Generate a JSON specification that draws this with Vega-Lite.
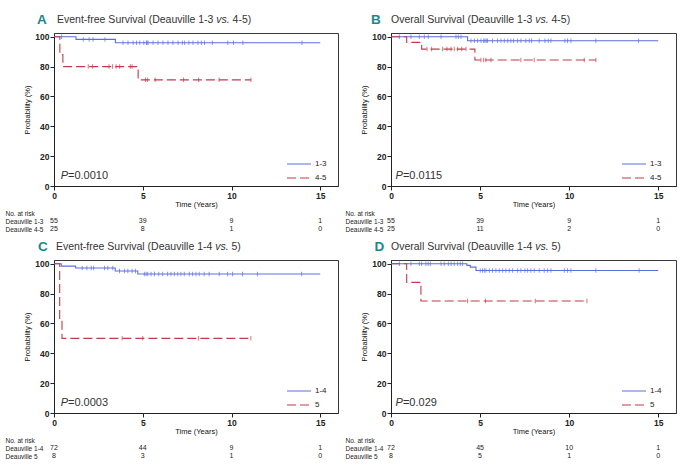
{
  "$schema": "https://vega.github.io/schema/vega-lite/v6.json",
  "padding": {"top": 12, "left": 5, "right": 5, "bottom": 5},
  "background": "white",
  "config": {
    "font": "Liberation Sans",
    "view": {"stroke": null},
    "axis": {"labelFont": "Liberation Sans", "titleFont": "Liberation Sans", "labelFontSize": 8.5, "labelFontWeight": "bold", "titleFontSize": 7.5, "titleFontWeight": "normal", "labelColor": "#222", "titleColor": "#111", "domainColor": "#222", "tickColor": "#222", "tickSize": 4, "grid": false, "labelOverlap": false, "labelFlush": false, "labelSeparation": 0},
    "axisY": {"labelOverlap": false},
    "axisQuantitative": {"labelOverlap": false},
    "legend": {"labelFont": "Liberation Sans"},
    "text": {"font": "Liberation Sans"}
  },
  "datasets": {
    "A_km": [
      {"g": "1-3", "t": 0, "s": 100}, {"g": "1-3", "t": 1.24, "s": 98.2}, {"g": "1-3", "t": 3.46, "s": 96}, {"g": "1-3", "t": 15, "s": 96},
      {"g": "4-5", "t": 0, "s": 100}, {"g": "4-5", "t": 0.33, "s": 88}, {"g": "4-5", "t": 0.5, "s": 80}, {"g": "4-5", "t": 4.74, "s": 71.1}, {"g": "4-5", "t": 11.1, "s": 71.1}
    ],
    "A_cens": [
      {"g": "1-3", "t": 0.43, "s": 100},
      {"g": "1-3", "t": 1.65, "s": 98.2}, {"g": "1-3", "t": 1.98, "s": 98.2}, {"g": "1-3", "t": 2.2, "s": 98.2}, {"g": "1-3", "t": 2.87, "s": 98.2},
      {"g": "1-3", "t": 3.89, "s": 96}, {"g": "1-3", "t": 4.17, "s": 96}, {"g": "1-3", "t": 4.46, "s": 96}, {"g": "1-3", "t": 4.65, "s": 96}, {"g": "1-3", "t": 4.83, "s": 96}, {"g": "1-3", "t": 5.06, "s": 96}, {"g": "1-3", "t": 5.21, "s": 96}, {"g": "1-3", "t": 5.24, "s": 96}, {"g": "1-3", "t": 5.3, "s": 96}, {"g": "1-3", "t": 5.58, "s": 96}, {"g": "1-3", "t": 5.86, "s": 96}, {"g": "1-3", "t": 6.14, "s": 96}, {"g": "1-3", "t": 6.42, "s": 96}, {"g": "1-3", "t": 6.7, "s": 96}, {"g": "1-3", "t": 6.99, "s": 96}, {"g": "1-3", "t": 7.23, "s": 96}, {"g": "1-3", "t": 7.36, "s": 96}, {"g": "1-3", "t": 7.6, "s": 96}, {"g": "1-3", "t": 7.83, "s": 96}, {"g": "1-3", "t": 8.11, "s": 96}, {"g": "1-3", "t": 8.3, "s": 96}, {"g": "1-3", "t": 8.48, "s": 96}, {"g": "1-3", "t": 8.92, "s": 96}, {"g": "1-3", "t": 9.79, "s": 96}, {"g": "1-3", "t": 10.11, "s": 96}, {"g": "1-3", "t": 10.64, "s": 96}, {"g": "1-3", "t": 13.97, "s": 96},
      {"g": "4-5", "t": 1.93, "s": 80}, {"g": "4-5", "t": 2.17, "s": 80}, {"g": "4-5", "t": 3.1, "s": 80}, {"g": "4-5", "t": 3.3, "s": 80}, {"g": "4-5", "t": 3.5, "s": 80}, {"g": "4-5", "t": 3.7, "s": 80}, {"g": "4-5", "t": 4.3, "s": 80}, {"g": "4-5", "t": 4.4, "s": 80},
      {"g": "4-5", "t": 5.15, "s": 71.1}, {"g": "4-5", "t": 5.26, "s": 71.1}, {"g": "4-5", "t": 5.7, "s": 71.1}, {"g": "4-5", "t": 7.3, "s": 71.1}, {"g": "4-5", "t": 8.15, "s": 71.1}, {"g": "4-5", "t": 9.3, "s": 71.1}, {"g": "4-5", "t": 11.1, "s": 71.1}
    ],
    "A_risk": [
      {"row": "Deauville 1-3", "t": 0, "n": 55}, {"row": "Deauville 1-3", "t": 5, "n": 39}, {"row": "Deauville 1-3", "t": 10, "n": 9}, {"row": "Deauville 1-3", "t": 15, "n": 1},
      {"row": "Deauville 4-5", "t": 0, "n": 25}, {"row": "Deauville 4-5", "t": 5, "n": 8}, {"row": "Deauville 4-5", "t": 10, "n": 1}, {"row": "Deauville 4-5", "t": 15, "n": 0}
    ],
    "B_km": [
      {"g": "1-3", "t": 0, "s": 100}, {"g": "1-3", "t": 4.3, "s": 97.3}, {"g": "1-3", "t": 15, "s": 97.3},
      {"g": "4-5", "t": 0, "s": 100}, {"g": "4-5", "t": 0.88, "s": 96.2}, {"g": "4-5", "t": 1.72, "s": 91.7}, {"g": "4-5", "t": 4.71, "s": 84.4}, {"g": "4-5", "t": 11.5, "s": 84.4}
    ],
    "B_cens": [
      {"g": "1-3", "t": 0.47, "s": 100}, {"g": "1-3", "t": 1.12, "s": 100}, {"g": "1-3", "t": 1.59, "s": 100}, {"g": "1-3", "t": 1.87, "s": 100}, {"g": "1-3", "t": 2.09, "s": 100}, {"g": "1-3", "t": 2.81, "s": 100}, {"g": "1-3", "t": 3.65, "s": 100}, {"g": "1-3", "t": 3.78, "s": 100}, {"g": "1-3", "t": 3.93, "s": 100},
      {"g": "1-3", "t": 4.49, "s": 97.3}, {"g": "1-3", "t": 4.68, "s": 97.3}, {"g": "1-3", "t": 4.86, "s": 97.3}, {"g": "1-3", "t": 5.05, "s": 97.3}, {"g": "1-3", "t": 5.2, "s": 97.3}, {"g": "1-3", "t": 5.27, "s": 97.3}, {"g": "1-3", "t": 5.35, "s": 97.3}, {"g": "1-3", "t": 5.42, "s": 97.3}, {"g": "1-3", "t": 5.7, "s": 97.3}, {"g": "1-3", "t": 5.98, "s": 97.3}, {"g": "1-3", "t": 6.17, "s": 97.3}, {"g": "1-3", "t": 6.36, "s": 97.3}, {"g": "1-3", "t": 6.55, "s": 97.3}, {"g": "1-3", "t": 6.73, "s": 97.3}, {"g": "1-3", "t": 6.88, "s": 97.3}, {"g": "1-3", "t": 7.11, "s": 97.3}, {"g": "1-3", "t": 7.29, "s": 97.3}, {"g": "1-3", "t": 7.57, "s": 97.3}, {"g": "1-3", "t": 7.76, "s": 97.3}, {"g": "1-3", "t": 7.89, "s": 97.3}, {"g": "1-3", "t": 8.32, "s": 97.3}, {"g": "1-3", "t": 8.64, "s": 97.3}, {"g": "1-3", "t": 8.83, "s": 97.3}, {"g": "1-3", "t": 8.98, "s": 97.3}, {"g": "1-3", "t": 9.76, "s": 97.3}, {"g": "1-3", "t": 9.91, "s": 97.3}, {"g": "1-3", "t": 10.1, "s": 97.3}, {"g": "1-3", "t": 11.5, "s": 97.3}, {"g": "1-3", "t": 13.9, "s": 97.3},
      {"g": "4-5", "t": 2.02, "s": 91.7}, {"g": "4-5", "t": 2.28, "s": 91.7}, {"g": "4-5", "t": 2.9, "s": 91.7}, {"g": "4-5", "t": 3.14, "s": 91.7}, {"g": "4-5", "t": 3.37, "s": 91.7}, {"g": "4-5", "t": 3.55, "s": 91.7}, {"g": "4-5", "t": 3.74, "s": 91.7}, {"g": "4-5", "t": 3.97, "s": 91.7}, {"g": "4-5", "t": 4.21, "s": 91.7},
      {"g": "4-5", "t": 5.05, "s": 84.4}, {"g": "4-5", "t": 5.2, "s": 84.4}, {"g": "4-5", "t": 5.33, "s": 84.4}, {"g": "4-5", "t": 5.61, "s": 84.4}, {"g": "4-5", "t": 7.29, "s": 84.4}, {"g": "4-5", "t": 8.04, "s": 84.4}, {"g": "4-5", "t": 10.85, "s": 84.4}, {"g": "4-5", "t": 11.5, "s": 84.4}
    ],
    "B_risk": [
      {"row": "Deauville 1-3", "t": 0, "n": 55}, {"row": "Deauville 1-3", "t": 5, "n": 39}, {"row": "Deauville 1-3", "t": 10, "n": 9}, {"row": "Deauville 1-3", "t": 15, "n": 1},
      {"row": "Deauville 4-5", "t": 0, "n": 25}, {"row": "Deauville 4-5", "t": 5, "n": 11}, {"row": "Deauville 4-5", "t": 10, "n": 2}, {"row": "Deauville 4-5", "t": 15, "n": 0}
    ],
    "C_km": [
      {"g": "1-4", "t": 0, "s": 100}, {"g": "1-4", "t": 0.41, "s": 98.4}, {"g": "1-4", "t": 1.22, "s": 97.1}, {"g": "1-4", "t": 3.45, "s": 95.1}, {"g": "1-4", "t": 4.72, "s": 93.1}, {"g": "1-4", "t": 15, "s": 93.1},
      {"g": "5", "t": 0, "s": 100}, {"g": "5", "t": 0.32, "s": 62.5}, {"g": "5", "t": 0.45, "s": 50}, {"g": "5", "t": 11.09, "s": 50}
    ],
    "C_cens": [
      {"g": "1-4", "t": 1.59, "s": 97.1}, {"g": "1-4", "t": 1.85, "s": 97.1}, {"g": "1-4", "t": 2.1, "s": 97.1}, {"g": "1-4", "t": 2.23, "s": 97.1}, {"g": "1-4", "t": 2.85, "s": 97.1}, {"g": "1-4", "t": 3.03, "s": 97.1}, {"g": "1-4", "t": 3.31, "s": 97.1},
      {"g": "1-4", "t": 3.69, "s": 95.1}, {"g": "1-4", "t": 3.97, "s": 95.1}, {"g": "1-4", "t": 4.16, "s": 95.1}, {"g": "1-4", "t": 4.4, "s": 95.1}, {"g": "1-4", "t": 4.59, "s": 95.1},
      {"g": "1-4", "t": 5.09, "s": 93.1}, {"g": "1-4", "t": 5.19, "s": 93.1}, {"g": "1-4", "t": 5.28, "s": 93.1}, {"g": "1-4", "t": 5.47, "s": 93.1}, {"g": "1-4", "t": 5.66, "s": 93.1}, {"g": "1-4", "t": 5.9, "s": 93.1}, {"g": "1-4", "t": 6.12, "s": 93.1}, {"g": "1-4", "t": 6.4, "s": 93.1}, {"g": "1-4", "t": 6.59, "s": 93.1}, {"g": "1-4", "t": 6.78, "s": 93.1}, {"g": "1-4", "t": 6.97, "s": 93.1}, {"g": "1-4", "t": 7.15, "s": 93.1}, {"g": "1-4", "t": 7.34, "s": 93.1}, {"g": "1-4", "t": 7.62, "s": 93.1}, {"g": "1-4", "t": 7.81, "s": 93.1}, {"g": "1-4", "t": 8.0, "s": 93.1}, {"g": "1-4", "t": 8.18, "s": 93.1}, {"g": "1-4", "t": 8.46, "s": 93.1}, {"g": "1-4", "t": 8.74, "s": 93.1}, {"g": "1-4", "t": 9.31, "s": 93.1}, {"g": "1-4", "t": 9.78, "s": 93.1}, {"g": "1-4", "t": 10.06, "s": 93.1}, {"g": "1-4", "t": 10.62, "s": 93.1}, {"g": "1-4", "t": 11.46, "s": 93.1}, {"g": "1-4", "t": 13.95, "s": 93.1},
      {"g": "5", "t": 3.84, "s": 50}, {"g": "5", "t": 5.0, "s": 50}, {"g": "5", "t": 8.15, "s": 50}, {"g": "5", "t": 11.09, "s": 50}
    ],
    "C_risk": [
      {"row": "Deauville 1-4", "t": 0, "n": 72}, {"row": "Deauville 1-4", "t": 5, "n": 44}, {"row": "Deauville 1-4", "t": 10, "n": 9}, {"row": "Deauville 1-4", "t": 15, "n": 1},
      {"row": "Deauville 5", "t": 0, "n": 8}, {"row": "Deauville 5", "t": 5, "n": 3}, {"row": "Deauville 5", "t": 10, "n": 1}, {"row": "Deauville 5", "t": 15, "n": 0}
    ],
    "D_km": [
      {"g": "1-4", "t": 0, "s": 100}, {"g": "1-4", "t": 4.26, "s": 98.9}, {"g": "1-4", "t": 4.45, "s": 97.7}, {"g": "1-4", "t": 4.77, "s": 95.5}, {"g": "1-4", "t": 15, "s": 95.5},
      {"g": "5", "t": 0, "s": 100}, {"g": "5", "t": 0.88, "s": 87.5}, {"g": "5", "t": 1.68, "s": 75}, {"g": "5", "t": 11.0, "s": 75}
    ],
    "D_cens": [
      {"g": "1-4", "t": 0.47, "s": 100}, {"g": "1-4", "t": 1.12, "s": 100}, {"g": "1-4", "t": 1.59, "s": 100}, {"g": "1-4", "t": 1.72, "s": 100}, {"g": "1-4", "t": 1.96, "s": 100}, {"g": "1-4", "t": 2.09, "s": 100}, {"g": "1-4", "t": 2.21, "s": 100}, {"g": "1-4", "t": 2.81, "s": 100}, {"g": "1-4", "t": 2.99, "s": 100}, {"g": "1-4", "t": 3.22, "s": 100}, {"g": "1-4", "t": 3.37, "s": 100}, {"g": "1-4", "t": 3.55, "s": 100}, {"g": "1-4", "t": 3.74, "s": 100}, {"g": "1-4", "t": 3.89, "s": 100}, {"g": "1-4", "t": 4.02, "s": 100},
      {"g": "1-4", "t": 5.01, "s": 95.5}, {"g": "1-4", "t": 5.14, "s": 95.5}, {"g": "1-4", "t": 5.24, "s": 95.5}, {"g": "1-4", "t": 5.33, "s": 95.5}, {"g": "1-4", "t": 5.52, "s": 95.5}, {"g": "1-4", "t": 5.7, "s": 95.5}, {"g": "1-4", "t": 5.89, "s": 95.5}, {"g": "1-4", "t": 6.08, "s": 95.5}, {"g": "1-4", "t": 6.27, "s": 95.5}, {"g": "1-4", "t": 6.45, "s": 95.5}, {"g": "1-4", "t": 6.64, "s": 95.5}, {"g": "1-4", "t": 6.83, "s": 95.5}, {"g": "1-4", "t": 7.11, "s": 95.5}, {"g": "1-4", "t": 7.29, "s": 95.5}, {"g": "1-4", "t": 7.52, "s": 95.5}, {"g": "1-4", "t": 7.67, "s": 95.5}, {"g": "1-4", "t": 7.85, "s": 95.5}, {"g": "1-4", "t": 8.04, "s": 95.5}, {"g": "1-4", "t": 8.32, "s": 95.5}, {"g": "1-4", "t": 8.6, "s": 95.5}, {"g": "1-4", "t": 8.79, "s": 95.5}, {"g": "1-4", "t": 8.98, "s": 95.5}, {"g": "1-4", "t": 9.73, "s": 95.5}, {"g": "1-4", "t": 9.91, "s": 95.5}, {"g": "1-4", "t": 10.1, "s": 95.5}, {"g": "1-4", "t": 11.5, "s": 95.5}, {"g": "1-4", "t": 13.93, "s": 95.5},
      {"g": "5", "t": 4.3, "s": 75}, {"g": "5", "t": 5.3, "s": 75}, {"g": "5", "t": 8.1, "s": 75}, {"g": "5", "t": 11.0, "s": 75}
    ],
    "D_risk": [
      {"row": "Deauville 1-4", "t": 0, "n": 72}, {"row": "Deauville 1-4", "t": 5, "n": 45}, {"row": "Deauville 1-4", "t": 10, "n": 10}, {"row": "Deauville 1-4", "t": 15, "n": 1},
      {"row": "Deauville 5", "t": 0, "n": 8}, {"row": "Deauville 5", "t": 5, "n": 5}, {"row": "Deauville 5", "t": 10, "n": 1}, {"row": "Deauville 5", "t": 15, "n": 0}
    ]
  },
  "spacing": 6,
  "resolve": {"scale": {"color": "independent", "strokeDash": "independent"}},
  "vconcat": [
    {
      "spacing": 6,
      "resolve": {"scale": {"color": "independent", "strokeDash": "independent"}},
      "hconcat": [
        {
          "spacing": -9.5,
          "resolve": {"scale": {"color": "independent", "strokeDash": "independent"}},
          "vconcat": [
            {
              "width": 284, "height": 153,
              "view": {"stroke": "#3a3a3a", "strokeWidth": 1},
              "layer": [
                {"data": {"name": "A_km"}, "mark": {"type": "line", "interpolate": "step-after", "strokeWidth": 1.1},
                 "encoding": {
                   "x": {"field": "t", "type": "quantitative", "scale": {"domain": [0, 16], "nice": false}, "axis": {"values": [0, 5, 10, 15], "title": "Time (Years)", "titlePadding": 1, "labelPadding": 1, "labelOverlap": false}},
                   "y": {"field": "s", "type": "quantitative", "scale": {"domain": [0, 102.5], "nice": false}, "axis": {"values": [0, 20, 40, 60, 80, 100], "tickCount": 6, "title": "Probability (%)", "titlePadding": 3, "labelPadding": 1, "labelOverlap": false, "labelFlush": false}},
                   "color": {"field": "g", "type": "nominal", "scale": {"domain": ["1-3", "4-5"], "range": ["#5b6ee0", "#c23b48"]}, "legend": {"orient": "none", "legendX": 238, "legendY": 124, "title": null, "symbolType": "M-2,0L2,0", "symbolSize": 144, "symbolStrokeWidth": 1.2, "labelFontSize": 8, "labelColor": "#222", "labelOffset": 9, "padding": 0, "rowPadding": 3}},
                   "strokeDash": {"field": "g", "type": "nominal", "scale": {"domain": ["1-3", "4-5"], "range": [[1, 0], [9, 4]]}, "legend": {"orient": "none", "legendX": 238, "legendY": 124, "title": null, "symbolType": "M-2,0L2,0", "symbolSize": 144, "symbolStrokeWidth": 1.2, "labelFontSize": 8, "labelColor": "#222", "labelOffset": 9, "padding": 0, "rowPadding": 3}}
                 }},
                {"data": {"name": "A_cens"}, "mark": {"type": "tick", "orient": "vertical", "size": 4.5, "thickness": 1},
                 "encoding": {"x": {"field": "t", "type": "quantitative", "axis": {"values": [0, 5, 10, 15], "title": "Time (Years)", "labelOverlap": false}}, "y": {"field": "s", "type": "quantitative", "axis": {"values": [0, 20, 40, 60, 80, 100], "title": "Probability (%)", "labelOverlap": false}}, "color": {"condition": {"test": "datum.g === '1-3'", "value": "#5b6ee0"}, "value": "#c23b48"}}},
                {"data": {"values": [{}]}, "mark": {"type": "text", "text": "A", "fontSize": 13.5, "fontWeight": "bold", "color": "#17898c", "align": "center", "baseline": "middle"}, "encoding": {"x": {"datum": -0.68}, "y": {"datum": 111}}},
                {"data": {"values": [{}]}, "mark": {"type": "text", "text": "Event-free Survival (Deauville 1-3", "fontSize": 10.5, "color": "#333", "align": "left", "baseline": "middle"}, "encoding": {"x": {"datum": 0.17}, "y": {"datum": 111}}},
                {"data": {"values": [{}]}, "mark": {"type": "text", "text": "vs.", "fontSize": 10.5, "fontStyle": "italic", "color": "#333", "align": "left", "baseline": "middle"}, "encoding": {"x": {"datum": 9.14}, "y": {"datum": 111}}},
                {"data": {"values": [{}]}, "mark": {"type": "text", "text": "4-5)", "fontSize": 10.5, "color": "#333", "align": "left", "baseline": "middle"}, "encoding": {"x": {"datum": 10.06}, "y": {"datum": 111}}},
                {"data": {"values": [{}]}, "mark": {"type": "text", "text": "P", "fontSize": 11, "fontStyle": "italic", "color": "#333", "align": "right", "baseline": "middle"}, "encoding": {"x": {"datum": 0.79}, "y": {"datum": 7}}},
                {"data": {"values": [{}]}, "mark": {"type": "text", "text": "=0.0010", "fontSize": 11, "color": "#333", "align": "left", "baseline": "middle"}, "encoding": {"x": {"datum": 0.79}, "y": {"datum": 7}}}
              ]
            },
            {
              "width": 284, "height": 24,
              "data": {"name": "A_risk"},
              "mark": {"type": "text", "fontSize": 7, "color": "#222"},
              "encoding": {
                "x": {"field": "t", "type": "quantitative", "scale": {"domain": [0, 16], "nice": false}, "axis": null},
                "y": {"field": "row", "type": "nominal", "scale": {"domain": ["No. at risk", "Deauville 1-3", "Deauville 4-5"], "paddingInner": 0, "paddingOuter": 0}, "axis": {"title": null, "labelAlign": "left", "labelPadding": 49, "ticks": false, "tickSize": 0, "domain": false, "labelFontSize": 6.5, "labelFontWeight": "normal"}},
                "text": {"field": "n", "type": "quantitative"}
              }
            }
          ]
        },
        {
          "spacing": -9.5,
          "resolve": {"scale": {"color": "independent", "strokeDash": "independent"}},
          "vconcat": [
            {
              "width": 285, "height": 153,
              "view": {"stroke": "#3a3a3a", "strokeWidth": 1},
              "layer": [
                {"data": {"name": "B_km"}, "mark": {"type": "line", "interpolate": "step-after", "strokeWidth": 1.1},
                 "encoding": {
                   "x": {"field": "t", "type": "quantitative", "scale": {"domain": [0, 16], "nice": false}, "axis": {"values": [0, 5, 10, 15], "title": "Time (Years)", "titlePadding": 1, "labelPadding": 1, "labelOverlap": false}},
                   "y": {"field": "s", "type": "quantitative", "scale": {"domain": [0, 102.5], "nice": false}, "axis": {"values": [0, 20, 40, 60, 80, 100], "tickCount": 6, "title": "Probability (%)", "titlePadding": 3, "labelPadding": 1, "labelOverlap": false, "labelFlush": false}},
                   "color": {"field": "g", "type": "nominal", "scale": {"domain": ["1-3", "4-5"], "range": ["#5b6ee0", "#c23b48"]}, "legend": {"orient": "none", "legendX": 236, "legendY": 124, "title": null, "symbolType": "M-2,0L2,0", "symbolSize": 144, "symbolStrokeWidth": 1.2, "labelFontSize": 8, "labelColor": "#222", "labelOffset": 9, "padding": 0, "rowPadding": 3}},
                   "strokeDash": {"field": "g", "type": "nominal", "scale": {"domain": ["1-3", "4-5"], "range": [[1, 0], [9, 4]]}, "legend": {"orient": "none", "legendX": 236, "legendY": 124, "title": null, "symbolType": "M-2,0L2,0", "symbolSize": 144, "symbolStrokeWidth": 1.2, "labelFontSize": 8, "labelColor": "#222", "labelOffset": 9, "padding": 0, "rowPadding": 3}}
                 }},
                {"data": {"name": "B_cens"}, "mark": {"type": "tick", "orient": "vertical", "size": 4.5, "thickness": 1},
                 "encoding": {"x": {"field": "t", "type": "quantitative", "axis": {"values": [0, 5, 10, 15], "title": "Time (Years)", "labelOverlap": false}}, "y": {"field": "s", "type": "quantitative", "axis": {"values": [0, 20, 40, 60, 80, 100], "title": "Probability (%)", "labelOverlap": false}}, "color": {"condition": {"test": "datum.g === '1-3'", "value": "#5b6ee0"}, "value": "#c23b48"}}},
                {"data": {"values": [{}]}, "mark": {"type": "text", "text": "B", "fontSize": 13.5, "fontWeight": "bold", "color": "#17898c", "align": "center", "baseline": "middle"}, "encoding": {"x": {"datum": -0.85}, "y": {"datum": 111}}},
                {"data": {"values": [{}]}, "mark": {"type": "text", "text": "Overall Survival (Deauville 1-3", "fontSize": 10.5, "color": "#333", "align": "left", "baseline": "middle"}, "encoding": {"x": {"datum": 0.0}, "y": {"datum": 111}}},
                {"data": {"values": [{}]}, "mark": {"type": "text", "text": "vs.", "fontSize": 10.5, "fontStyle": "italic", "color": "#333", "align": "left", "baseline": "middle"}, "encoding": {"x": {"datum": 8.1}, "y": {"datum": 111}}},
                {"data": {"values": [{}]}, "mark": {"type": "text", "text": "4-5)", "fontSize": 10.5, "color": "#333", "align": "left", "baseline": "middle"}, "encoding": {"x": {"datum": 9.01}, "y": {"datum": 111}}},
                {"data": {"values": [{}]}, "mark": {"type": "text", "text": "P", "fontSize": 11, "fontStyle": "italic", "color": "#333", "align": "right", "baseline": "middle"}, "encoding": {"x": {"datum": 0.67}, "y": {"datum": 7}}},
                {"data": {"values": [{}]}, "mark": {"type": "text", "text": "=0.0115", "fontSize": 11, "color": "#333", "align": "left", "baseline": "middle"}, "encoding": {"x": {"datum": 0.67}, "y": {"datum": 7}}}
              ]
            },
            {
              "width": 285, "height": 24,
              "data": {"name": "B_risk"},
              "mark": {"type": "text", "fontSize": 7, "color": "#222"},
              "encoding": {
                "x": {"field": "t", "type": "quantitative", "scale": {"domain": [0, 16], "nice": false}, "axis": null},
                "y": {"field": "row", "type": "nominal", "scale": {"domain": ["No. at risk", "Deauville 1-3", "Deauville 4-5"], "paddingInner": 0, "paddingOuter": 0}, "axis": {"title": null, "labelAlign": "left", "labelPadding": 46, "ticks": false, "tickSize": 0, "domain": false, "labelFontSize": 6.5, "labelFontWeight": "normal"}},
                "text": {"field": "n", "type": "quantitative"}
              }
            }
          ]
        }
      ]
    },
    {
      "spacing": 6,
      "resolve": {"scale": {"color": "independent", "strokeDash": "independent"}},
      "hconcat": [
        {
          "spacing": -9.5,
          "resolve": {"scale": {"color": "independent", "strokeDash": "independent"}},
          "vconcat": [
            {
              "width": 284, "height": 153,
              "view": {"stroke": "#3a3a3a", "strokeWidth": 1},
              "layer": [
                {"data": {"name": "C_km"}, "mark": {"type": "line", "interpolate": "step-after", "strokeWidth": 1.1},
                 "encoding": {
                   "x": {"field": "t", "type": "quantitative", "scale": {"domain": [0, 16], "nice": false}, "axis": {"values": [0, 5, 10, 15], "title": "Time (Years)", "titlePadding": 1, "labelPadding": 1, "labelOverlap": false}},
                   "y": {"field": "s", "type": "quantitative", "scale": {"domain": [0, 102.5], "nice": false}, "axis": {"values": [0, 20, 40, 60, 80, 100], "tickCount": 6, "title": "Probability (%)", "titlePadding": 3, "labelPadding": 1, "labelOverlap": false, "labelFlush": false}},
                   "color": {"field": "g", "type": "nominal", "scale": {"domain": ["1-4", "5"], "range": ["#5b6ee0", "#c23b48"]}, "legend": {"orient": "none", "legendX": 238, "legendY": 124, "title": null, "symbolType": "M-2,0L2,0", "symbolSize": 144, "symbolStrokeWidth": 1.2, "labelFontSize": 8, "labelColor": "#222", "labelOffset": 9, "padding": 0, "rowPadding": 3}},
                   "strokeDash": {"field": "g", "type": "nominal", "scale": {"domain": ["1-4", "5"], "range": [[1, 0], [9, 4]]}, "legend": {"orient": "none", "legendX": 238, "legendY": 124, "title": null, "symbolType": "M-2,0L2,0", "symbolSize": 144, "symbolStrokeWidth": 1.2, "labelFontSize": 8, "labelColor": "#222", "labelOffset": 9, "padding": 0, "rowPadding": 3}}
                 }},
                {"data": {"name": "C_cens"}, "mark": {"type": "tick", "orient": "vertical", "size": 4.5, "thickness": 1},
                 "encoding": {"x": {"field": "t", "type": "quantitative", "axis": {"values": [0, 5, 10, 15], "title": "Time (Years)", "labelOverlap": false}}, "y": {"field": "s", "type": "quantitative", "axis": {"values": [0, 20, 40, 60, 80, 100], "title": "Probability (%)", "labelOverlap": false}}, "color": {"condition": {"test": "datum.g === '1-4'", "value": "#5b6ee0"}, "value": "#c23b48"}}},
                {"data": {"values": [{}]}, "mark": {"type": "text", "text": "C", "fontSize": 13.5, "fontWeight": "bold", "color": "#17898c", "align": "center", "baseline": "middle"}, "encoding": {"x": {"datum": -0.62}, "y": {"datum": 111}}},
                {"data": {"values": [{}]}, "mark": {"type": "text", "text": "Event-free Survival (Deauville 1-4", "fontSize": 10.5, "color": "#333", "align": "left", "baseline": "middle"}, "encoding": {"x": {"datum": 0.11}, "y": {"datum": 111}}},
                {"data": {"values": [{}]}, "mark": {"type": "text", "text": "vs.", "fontSize": 10.5, "fontStyle": "italic", "color": "#333", "align": "left", "baseline": "middle"}, "encoding": {"x": {"datum": 9.09}, "y": {"datum": 111}}},
                {"data": {"values": [{}]}, "mark": {"type": "text", "text": "5)", "fontSize": 10.5, "color": "#333", "align": "left", "baseline": "middle"}, "encoding": {"x": {"datum": 10.0}, "y": {"datum": 111}}},
                {"data": {"values": [{}]}, "mark": {"type": "text", "text": "P", "fontSize": 11, "fontStyle": "italic", "color": "#333", "align": "right", "baseline": "middle"}, "encoding": {"x": {"datum": 0.79}, "y": {"datum": 7}}},
                {"data": {"values": [{}]}, "mark": {"type": "text", "text": "=0.0003", "fontSize": 11, "color": "#333", "align": "left", "baseline": "middle"}, "encoding": {"x": {"datum": 0.79}, "y": {"datum": 7}}}
              ]
            },
            {
              "width": 284, "height": 24,
              "data": {"name": "C_risk"},
              "mark": {"type": "text", "fontSize": 7, "color": "#222"},
              "encoding": {
                "x": {"field": "t", "type": "quantitative", "scale": {"domain": [0, 16], "nice": false}, "axis": null},
                "y": {"field": "row", "type": "nominal", "scale": {"domain": ["No. at risk", "Deauville 1-4", "Deauville 5"], "paddingInner": 0, "paddingOuter": 0}, "axis": {"title": null, "labelAlign": "left", "labelPadding": 49, "ticks": false, "tickSize": 0, "domain": false, "labelFontSize": 6.5, "labelFontWeight": "normal"}},
                "text": {"field": "n", "type": "quantitative"}
              }
            }
          ]
        },
        {
          "spacing": -9.5,
          "resolve": {"scale": {"color": "independent", "strokeDash": "independent"}},
          "vconcat": [
            {
              "width": 285, "height": 153,
              "view": {"stroke": "#3a3a3a", "strokeWidth": 1},
              "layer": [
                {"data": {"name": "D_km"}, "mark": {"type": "line", "interpolate": "step-after", "strokeWidth": 1.1},
                 "encoding": {
                   "x": {"field": "t", "type": "quantitative", "scale": {"domain": [0, 16], "nice": false}, "axis": {"values": [0, 5, 10, 15], "title": "Time (Years)", "titlePadding": 1, "labelPadding": 1, "labelOverlap": false}},
                   "y": {"field": "s", "type": "quantitative", "scale": {"domain": [0, 102.5], "nice": false}, "axis": {"values": [0, 20, 40, 60, 80, 100], "tickCount": 6, "title": "Probability (%)", "titlePadding": 3, "labelPadding": 1, "labelOverlap": false, "labelFlush": false}},
                   "color": {"field": "g", "type": "nominal", "scale": {"domain": ["1-4", "5"], "range": ["#5b6ee0", "#c23b48"]}, "legend": {"orient": "none", "legendX": 236, "legendY": 124, "title": null, "symbolType": "M-2,0L2,0", "symbolSize": 144, "symbolStrokeWidth": 1.2, "labelFontSize": 8, "labelColor": "#222", "labelOffset": 9, "padding": 0, "rowPadding": 3}},
                   "strokeDash": {"field": "g", "type": "nominal", "scale": {"domain": ["1-4", "5"], "range": [[1, 0], [9, 4]]}, "legend": {"orient": "none", "legendX": 236, "legendY": 124, "title": null, "symbolType": "M-2,0L2,0", "symbolSize": 144, "symbolStrokeWidth": 1.2, "labelFontSize": 8, "labelColor": "#222", "labelOffset": 9, "padding": 0, "rowPadding": 3}}
                 }},
                {"data": {"name": "D_cens"}, "mark": {"type": "tick", "orient": "vertical", "size": 4.5, "thickness": 1},
                 "encoding": {"x": {"field": "t", "type": "quantitative", "axis": {"values": [0, 5, 10, 15], "title": "Time (Years)", "labelOverlap": false}}, "y": {"field": "s", "type": "quantitative", "axis": {"values": [0, 20, 40, 60, 80, 100], "title": "Probability (%)", "labelOverlap": false}}, "color": {"condition": {"test": "datum.g === '1-4'", "value": "#5b6ee0"}, "value": "#c23b48"}}},
                {"data": {"values": [{}]}, "mark": {"type": "text", "text": "D", "fontSize": 13.5, "fontWeight": "bold", "color": "#17898c", "align": "center", "baseline": "middle"}, "encoding": {"x": {"datum": -0.65}, "y": {"datum": 111}}},
                {"data": {"values": [{}]}, "mark": {"type": "text", "text": "Overall Survival (Deauville 1-4", "fontSize": 10.5, "color": "#333", "align": "left", "baseline": "middle"}, "encoding": {"x": {"datum": 0.0}, "y": {"datum": 111}}},
                {"data": {"values": [{}]}, "mark": {"type": "text", "text": "vs.", "fontSize": 10.5, "fontStyle": "italic", "color": "#333", "align": "left", "baseline": "middle"}, "encoding": {"x": {"datum": 8.1}, "y": {"datum": 111}}},
                {"data": {"values": [{}]}, "mark": {"type": "text", "text": "5)", "fontSize": 10.5, "color": "#333", "align": "left", "baseline": "middle"}, "encoding": {"x": {"datum": 9.01}, "y": {"datum": 111}}},
                {"data": {"values": [{}]}, "mark": {"type": "text", "text": "P", "fontSize": 11, "fontStyle": "italic", "color": "#333", "align": "right", "baseline": "middle"}, "encoding": {"x": {"datum": 0.67}, "y": {"datum": 7}}},
                {"data": {"values": [{}]}, "mark": {"type": "text", "text": "=0.029", "fontSize": 11, "color": "#333", "align": "left", "baseline": "middle"}, "encoding": {"x": {"datum": 0.67}, "y": {"datum": 7}}}
              ]
            },
            {
              "width": 285, "height": 24,
              "data": {"name": "D_risk"},
              "mark": {"type": "text", "fontSize": 7, "color": "#222"},
              "encoding": {
                "x": {"field": "t", "type": "quantitative", "scale": {"domain": [0, 16], "nice": false}, "axis": null},
                "y": {"field": "row", "type": "nominal", "scale": {"domain": ["No. at risk", "Deauville 1-4", "Deauville 5"], "paddingInner": 0, "paddingOuter": 0}, "axis": {"title": null, "labelAlign": "left", "labelPadding": 46, "ticks": false, "tickSize": 0, "domain": false, "labelFontSize": 6.5, "labelFontWeight": "normal"}},
                "text": {"field": "n", "type": "quantitative"}
              }
            }
          ]
        }
      ]
    }
  ]
}
